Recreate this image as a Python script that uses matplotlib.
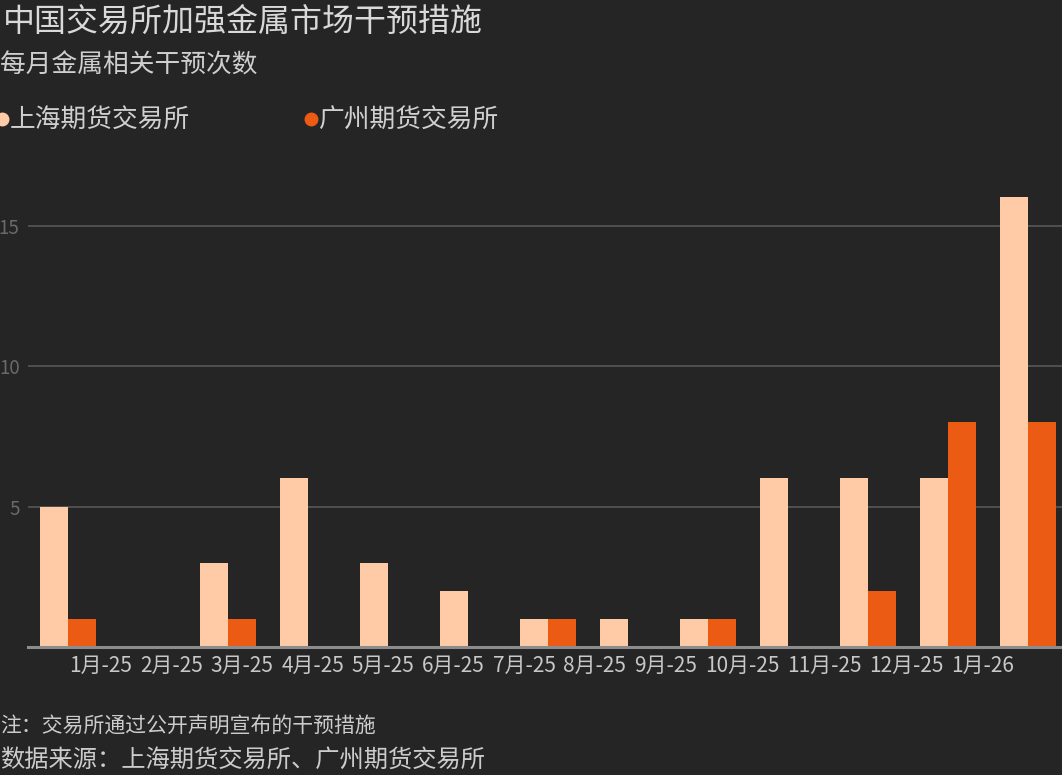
import matplotlib
matplotlib.use("Agg")
import matplotlib.pyplot as plt
from matplotlib.lines import Line2D
import numpy as np

plt.rcParams['font.family'] = ['Noto Sans CJK SC', 'DejaVu Sans']

months = ["1月-25", "2月-25", "3月-25", "4月-25", "5月-25", "6月-25", "7月-25",
          "8月-25", "9月-25", "10月-25", "11月-25", "12月-25", "1月-26"]
shfe = [5, 0, 3, 6, 3, 2, 1, 1, 1, 6, 6, 6, 16]
gfex = [1, 0, 1, 0, 0, 0, 1, 0, 1, 0, 2, 8, 8]
series_names = ["上海期货交易所", "广州期货交易所"]
yticks = [5, 10, 15]

BG = "#252525"
PEACH = "#FFCBA6"
ORANGE = "#EC5B14"
W, H = 1062, 775

fig = plt.figure(figsize=(W / 100, H / 100), dpi=100, facecolor=BG)
ax = fig.add_axes([28 / W, (H - 647) / H, 1 - 28 / W, (647 - 164) / H])
ax.set_facecolor(BG)

x = np.arange(len(months))
bw = 0.35
ax.bar(x - bw / 2, shfe, bw, color=PEACH, zorder=3)
ax.bar(x + bw / 2, gfex, bw, color=ORANGE, zorder=3)

ax.set_xlim(-0.5, 12.425)
ax.set_ylim(0, 17.19)
ax.set_yticks(yticks)
ax.yaxis.grid(True, color="#575757", lw=1.2, zorder=0)
ax.tick_params(axis='y', length=0, labelcolor="#6a6a6a", labelsize=13.5, pad=6)
ax.set_xticks([])
for s in ["top", "right", "left"]:
    ax.spines[s].set_visible(False)
ax.spines["bottom"].set_color("#8c8c8c")
ax.spines["bottom"].set_linewidth(2.2)
ax.spines["bottom"].set_zorder(4)

# month labels, flowing one after another as in the reference
prev = ax.annotate(months[0], xy=(0, 0), xycoords=('data', 'axes fraction'),
                   xytext=(1.0, -19 * 0.72), textcoords='offset points',
                   ha='left', va='center', fontsize=15, color="#c8c8c8")
for lab in months[1:]:
    prev = ax.annotate(lab, xy=(1, 0.5), xycoords=prev,
                       xytext=(5.6, 0), textcoords='offset points',
                       ha='left', va='center', fontsize=15, color="#c8c8c8")

fig.text(3 / W, 1 - 22 / H, "中国交易所加强金属市场干预措施", fontsize=23,
         color="#d9d9d9", ha='left', va='center')
fig.text(0 / W, 1 - 66 / H, "每月金属相关干预次数", fontsize=18.5,
         color="#cfcfcf", ha='left', va='center')

handles = [Line2D([], [], ls='none', marker='o', ms=9, color=PEACH),
           Line2D([], [], ls='none', marker='o', ms=9, color=ORANGE)]
leg = fig.legend(handles, series_names, loc='center left',
                 bbox_to_anchor=(-0.015, 1 - 121 / H), ncol=2, frameon=False,
                 fontsize=18.5, labelcolor="#d0d0d0", handlelength=0.6,
                 handletextpad=0.0, columnspacing=4.4, borderaxespad=0)

fig.text(0 / W, 1 - 727 / H, "注：交易所通过公开声明宣布的干预措施", fontsize=15,
         color="#cccccc", ha='left', va='center')
fig.text(0 / W, 1 - 760 / H, "数据来源：上海期货交易所、广州期货交易所", fontsize=17.5,
         color="#cccccc", ha='left', va='center')

fig.savefig("out.png", dpi=100, facecolor=BG)
